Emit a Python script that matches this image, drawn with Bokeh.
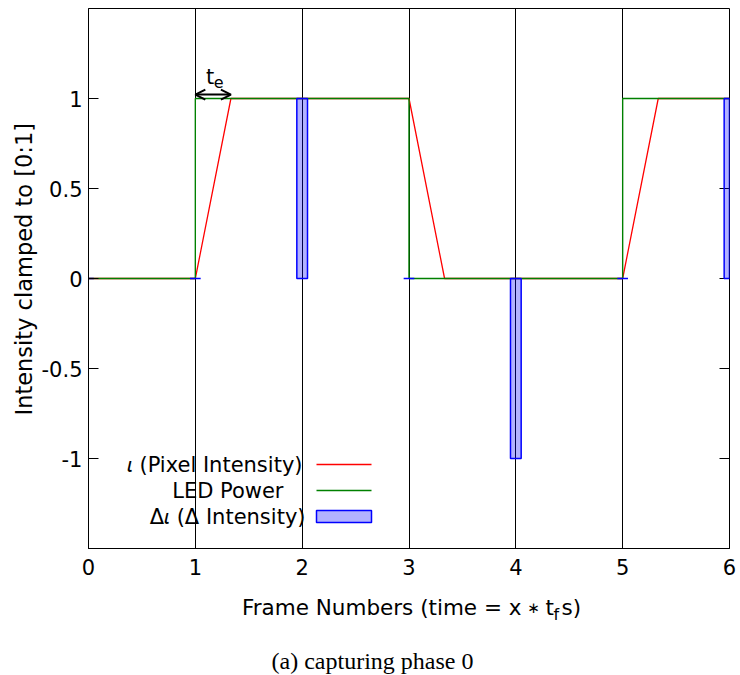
from bokeh.plotting import figure
from bokeh.layouts import column
from bokeh.models import (Range1d, FixedTicker, Label, Arrow, OpenHead,
                          BoxAnnotation, Title)
from bokeh.embed import file_html
from bokeh.resources import INLINE

# ---- data -------------------------------------------------------------
frames = [0, 1, 2, 3, 4, 5, 6]
led_power = [0, 1, 1, 0, 0, 1, 1]
pixel_time = [0, 1, 1.333, 3, 3.333, 5, 5.333, 6]
pixel_intensity = [0, 0, 1, 1, 0, 0, 1, 1]
delta_intensity = [0, 0, 1, 0, -1, 0, 1]
exposure_start = 1
exposure_end = 1.333

x_ticks = [0, 1, 2, 3, 4, 5, 6]
y_ticks = [-1, -0.5, 0, 0.5, 1]
y_tick_labels = ["-1", "-0.5", "0", "0.5", "1"]
legend_labels = ["\U0001D704 (Pixel Intensity)", "LED Power",
                 "\u0394\U0001D704 (\u0394 Intensity)"]

FONT = "DejaVu Sans"
RED = "#ff0000"
GREEN = "#008000"
BLUE = "#0000ff"

p = figure(width=740, height=590, title=None,
           x_range=Range1d(0, 6), y_range=Range1d(-1.5, 1.5),
           output_backend="svg", toolbar_location=None,
           min_border_left=88, min_border_right=11,
           min_border_top=8, min_border_bottom=42)
p.background_fill_color = "white"
p.border_fill_color = "white"
p.outline_line_color = "black"
p.outline_line_width = 1
p.outline_line_alpha = 1

# vertical grid at every frame
p.xgrid.ticker = FixedTicker(ticks=x_ticks[1:])
p.xgrid.grid_line_color = "black"
p.xgrid.grid_line_alpha = 1
p.xgrid.grid_line_width = 1
p.ygrid.visible = False

for ax in (p.xaxis[0], p.yaxis[0]):
    ax.axis_line_color = "black"
    ax.major_tick_line_color = "black"
    ax.major_tick_in = 10
    ax.major_tick_out = 0
    ax.minor_tick_in = 0
    ax.minor_tick_out = 0
    ax.major_label_text_font = FONT
    ax.major_label_text_font_size = "21px"
    ax.major_label_text_color = "black"

p.xaxis[0].ticker = FixedTicker(ticks=x_ticks)
p.xaxis[0].major_label_standoff = 10
p.yaxis[0].ticker = FixedTicker(ticks=y_ticks)
p.yaxis[0].major_label_overrides = {t: s for t, s in zip(y_ticks, y_tick_labels)}
p.yaxis[0].major_label_standoff = 6

# mirrored y ticks on the right edge (half of each dash falls inside the frame)
p.scatter(x=[x_ticks[-1]] * len(y_ticks), y=y_ticks, marker="dash",
          size=20, line_color="black", line_width=1)

# y-axis title
p.add_layout(Title(text="Intensity clamped to [0:1]", align="left", offset=133,
                   text_font=FONT, text_font_size="22.5px",
                   text_font_style="normal", text_color="black",
                   standoff=4), "left")

# ---- series -----------------------------------------------------------
p.line(pixel_time, pixel_intensity, line_color=RED, line_width=1.3)
p.step(frames, led_power, mode="after", line_color=GREEN, line_width=1.4)
p.vbar(x=frames, top=delta_intensity, bottom=0, width=0.1,
       fill_color=BLUE, fill_alpha=0.3, line_color=BLUE, line_width=1.5)

# exposure time marker
p.add_layout(Arrow(x_start=exposure_start, y_start=1.022,
                   x_end=exposure_end, y_end=1.022,
                   start=OpenHead(size=10, line_width=2, line_color="black"),
                   end=OpenHead(size=10, line_width=2, line_color="black"),
                   line_color="black", line_width=2))
p.add_layout(Label(x=1.10, y=1.12, text="t", text_font=FONT,
                   text_font_size="21px", text_color="black",
                   text_align="left", text_baseline="alphabetic"))
p.add_layout(Label(x=1.172, y=1.09, text="e", text_font=FONT,
                   text_font_size="16px", text_color="black",
                   text_align="left", text_baseline="alphabetic"))

# ---- legend (text left, sample right) ---------------------------------
row_y = [84, 58, 32]
label_right = [214, 195, 217]
for lbl, ry, rx in zip(legend_labels, row_y, label_right):
    p.add_layout(Label(x=rx, y=ry, x_units="screen", y_units="screen",
                       text=lbl, text_font=FONT, text_font_size="21px",
                       text_color="black", text_align="right",
                       text_baseline="middle"))
p.add_layout(Arrow(x_start=228, y_start=row_y[0], x_end=283, y_end=row_y[0],
                   start_units="screen", end_units="screen", end=None,
                   line_color=RED, line_width=1.3))
p.add_layout(Arrow(x_start=228, y_start=row_y[1], x_end=283, y_end=row_y[1],
                   start_units="screen", end_units="screen", end=None,
                   line_color=GREEN, line_width=1.4))
p.add_layout(BoxAnnotation(left=228, right=283, bottom=row_y[2] - 6, top=row_y[2] + 6,
                           left_units="screen", right_units="screen",
                           bottom_units="screen", top_units="screen",
                           fill_color=BLUE, fill_alpha=0.3,
                           line_color=BLUE, line_width=1.5, line_alpha=1))

# ---- x-axis title and caption strip -----------------------------------
# The strip's frame lines up with the main frame horizontally (88..729);
# its ranges are in pixels, counted downward from the top of the strip.
cap = figure(width=740, height=85, title=None,
             x_range=Range1d(88, 729), y_range=Range1d(85, 0),
             output_backend="svg", toolbar_location=None,
             x_axis_type=None, y_axis_type=None,
             min_border_left=0, min_border_right=0,
             min_border_top=0, min_border_bottom=0)
cap.outline_line_color = None
cap.grid.visible = False
cap.background_fill_color = "white"
cap.border_fill_color = "white"


def cap_text(x, y, text, size, align="left", font=FONT):
    cap.add_layout(Label(x=x, y=y, text=text, text_font=font,
                         text_font_size=size, text_color="black",
                         text_align=align, text_baseline="alphabetic"))


# "Frame Numbers (time = x * t_f s)" built from pieces
cap_text(521, 17, "Frame Numbers (time = x", "21.5px", align="right")
cap_text(533, 17, "\u2217", "15px", align="center")
cap_text(545, 17, "t", "21.5px")
cap_text(553, 24, "f", "16px")
cap_text(561, 17, "s)", "21.5px")
cap_text(375, 70, "(a)  capturing phase 0", "24px", align="center",
         font="Liberation Serif")

layout = column(p, cap, spacing=0)
open("out.html", "w").write(file_html(layout, INLINE))
